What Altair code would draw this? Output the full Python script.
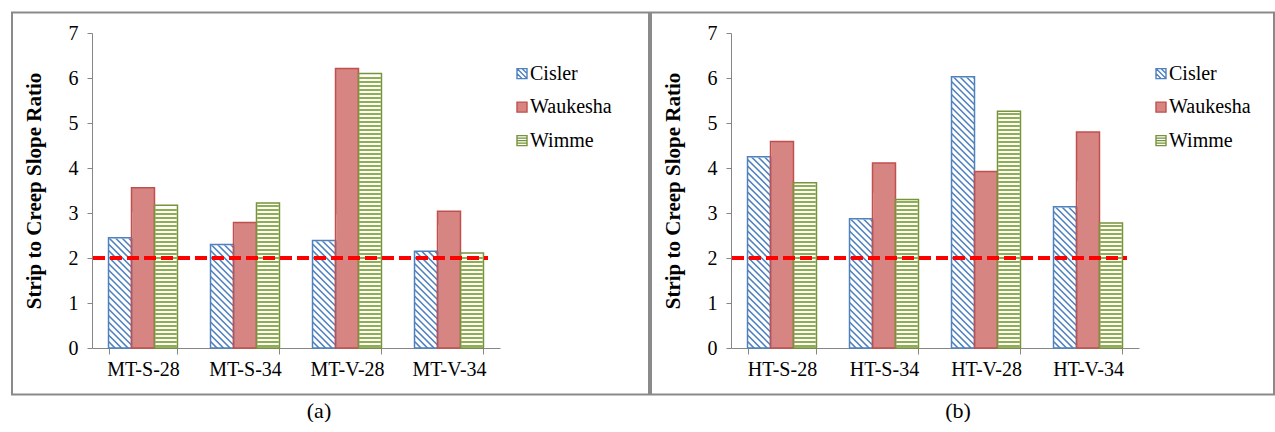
import altair as alt
import numpy as np
import pandas as pd

# ---- data -----------------------------------------------------------------
series = ["Cisler", "Waukesha", "Wimme"]

mt_categories = ["MT-S-28", "MT-S-34", "MT-V-28", "MT-V-34"]
mt_cisler = [2.45, 2.30, 2.39, 2.15]
mt_waukesha = [3.56, 2.79, 6.21, 3.04]
mt_wimme = [3.17, 3.22, 6.10, 2.11]

ht_categories = ["HT-S-28", "HT-S-34", "HT-V-28", "HT-V-34"]
ht_cisler = [4.25, 2.87, 6.03, 3.14]
ht_waukesha = [4.59, 4.11, 3.92, 4.80]
ht_wimme = [3.67, 3.30, 5.26, 2.78]

threshold = 2.0
y_ticks = [0, 1, 2, 3, 4, 5, 6, 7]

# ---- styling --------------------------------------------------------------
FONT = "Liberation Serif"
GRAY = "#868686"
BLUE = "#4F81BD"
RED_EDGE = "#C0504D"
RED_FILL = "#D68583"
GREEN_EDGE = "#77933C"
GREEN_LINE = "#8DB04C"

W, H = 408, 315
Y_MAX = 7
PX = H / Y_MAX                      # pixels per y unit
PAD_INNER = 0.324
BAR_PX = W / 4 * (1 - PAD_INNER) / 3  # width of one bar in pixels

# key swatches: outlined square plus hatch lines
shape_paths = [
    "M-1,-1H1V1H-1Z M-1,0L0,1 M-1,-1L1,1 M0,-1L1,0",
    "M-1,-1H1V1H-1Z",
    "M-1,-1H1V1H-1Z M-1,-0.5H1 M-1,0H1 M-1,0.5H1",
]
fill_range = ["#ffffff", RED_FILL, "#ffffff"]
stroke_range = [BLUE, RED_EDGE, GREEN_EDGE]

# key placement inside each panel (pixels from the plot's top-left)
KEY_X, KEY_Y0, KEY_ROW = 430, 40.6, 33.5


def panel(categories, cisler, waukesha, wimme, caption):
    values = [cisler, waukesha, wimme]
    df = pd.DataFrame(
        [{"cat": c, "series": s, "value": v}
         for s, vals in zip(series, values)
         for c, v in zip(categories, vals)]
    )

    # diagonal hatch strokes for the Cisler bars
    half = BAR_PX / 2 / PX
    hatch = pd.DataFrame(
        [{"cat": c, "series": "Cisler", "value": y}
         for c, v in zip(categories, cisler)
         for y in np.arange(-half, v + half, 6.5 / PX)]
    )
    # cover for hatch strokes poking above the Cisler bar tops
    cover = pd.DataFrame(
        [{"cat": c, "series": "Cisler", "value": v, "top": v + 2 * half + 0.05}
         for c, v in zip(categories, cisler)]
    )
    # horizontal stripes for the Wimme bars
    stripes = pd.DataFrame(
        [{"cat": c, "series": "Wimme", "value": y}
         for c, v in zip(categories, wimme)
         for y in np.arange(2 / PX, v - 1.5 / PX, 4 / PX)]
    )

    x_enc = alt.X(
        "cat:N",
        sort=categories,
        title=None,
        scale=alt.Scale(domain=categories, paddingInner=PAD_INNER,
                        paddingOuter=PAD_INNER / 2),
        axis=alt.Axis(
            tickBand="extent", tickSize=6, tickColor=GRAY, domainColor=GRAY,
            labelFont=FONT, labelFontSize=20, labelColor="black",
            labelPadding=5, labelAngle=0, grid=False,
        ),
    )
    xo_enc = alt.XOffset(
        "series:N", sort=series,
        scale=alt.Scale(domain=series, paddingInner=0, paddingOuter=0),
    )
    y_enc = alt.Y(
        "value:Q",
        title="Strip to Creep Slope Ratio",
        scale=alt.Scale(domain=[0, Y_MAX], nice=False),
        axis=alt.Axis(
            values=y_ticks, tickSize=5, tickColor=GRAY, domainColor=GRAY,
            labelFont=FONT, labelFontSize=20, labelColor="black",
            labelPadding=9, grid=False,
            titleFont=FONT, titleFontSize=21, titleFontWeight="bold",
            titleColor="black", titlePadding=24,
        ),
    )
    fill_scale = alt.Scale(domain=series, range=fill_range)
    stroke_scale = alt.Scale(domain=series, range=stroke_range)

    frame = alt.Chart(pd.DataFrame({"k": [caption]})).mark_rect(
        fill="transparent", stroke="#8a8a8a", strokeWidth=2
    ).encode(
        x=alt.value(-80), x2=alt.value(557 if caption == "(a)" else 543),
        y=alt.value(-20.4), y2=alt.value(361.6),
    )

    fills = alt.Chart(df).mark_bar(strokeWidth=0).encode(
        x=x_enc, xOffset=xo_enc, y=y_enc,
        fill=alt.Fill("series:N", scale=fill_scale, legend=None),
    )

    hatch_marks = alt.Chart(hatch).mark_point(
        shape="M-1,-1L1,1", size=BAR_PX ** 2, filled=False,
        stroke=BLUE, strokeWidth=1.6, opacity=1, clip=True,
    ).encode(x=x_enc, xOffset=xo_enc, y=y_enc)

    cover_marks = alt.Chart(cover).mark_bar(
        fill="white", stroke="white", strokeWidth=1.5
    ).encode(x=x_enc, xOffset=xo_enc, y=y_enc, y2="top:Q")

    stripe_marks = alt.Chart(stripes).mark_tick(
        orient="horizontal", size=BAR_PX - 1.5, thickness=2,
        color=GREEN_LINE, opacity=1,
    ).encode(x=x_enc, xOffset=xo_enc, y=y_enc)

    outlines = alt.Chart(df).mark_bar(
        fillOpacity=0, strokeWidth=1.5
    ).encode(
        x=x_enc, xOffset=xo_enc, y=y_enc,
        stroke=alt.Stroke("series:N", scale=stroke_scale, legend=None),
    )

    ref_line = alt.Chart(pd.DataFrame({"value": [threshold]})).mark_rule(
        color="#FF0000", strokeWidth=4, strokeDash=[12, 5]
    ).encode(y=y_enc, x=alt.value(1), x2=alt.value(396))

    label = alt.Chart(pd.DataFrame({"k": [caption]})).mark_text(
        font=FONT, fontSize=22, color="black", align="center",
        baseline="middle",
    ).encode(x=alt.value(227), y=alt.value(378), text="k:N")

    # series key: swatch + name per row
    key_layers = []
    for i, (name, path, fcol, scol) in enumerate(
        zip(series, shape_paths, fill_range, stroke_range)
    ):
        row_y = KEY_Y0 + i * KEY_ROW
        key_src = pd.DataFrame({"series": [name]})
        key_layers.append(
            alt.Chart(key_src).mark_point(
                shape=path, size=100, filled=True, fill=fcol, stroke=scol,
                strokeWidth=1.4, opacity=1,
            ).encode(x=alt.value(KEY_X), y=alt.value(row_y))
        )
        key_layers.append(
            alt.Chart(key_src).mark_text(
                font=FONT, fontSize=20, color="black", align="left",
                baseline="middle",
            ).encode(x=alt.value(KEY_X + 8), y=alt.value(row_y),
                     text="series:N")
        )

    return alt.layer(
        frame, fills, hatch_marks, cover_marks, stripe_marks, outlines,
        ref_line, label, *key_layers,
    ).properties(width=W, height=H)


left = panel(mt_categories, mt_cisler, mt_waukesha, mt_wimme, "(a)")
right = panel(ht_categories, ht_cisler, ht_waukesha, ht_wimme, "(b)")

chart = alt.hconcat(left, right, spacing=0).resolve_scale(
    x="independent", y="independent", xOffset="independent",
    fill="independent", stroke="independent",
).properties(
    padding={"left": 11, "top": 11, "right": 0, "bottom": 0},
    background="white",
).configure(
    font=FONT,
).configure_view(strokeWidth=0)

chart.save("out.html", embed_options={"renderer": "svg", "actions": False})
